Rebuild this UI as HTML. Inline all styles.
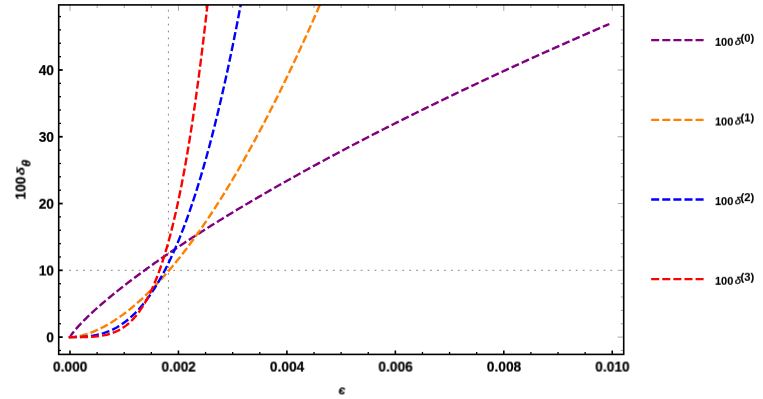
<!DOCTYPE html><html><head><meta charset="utf-8"><style>
html,body{margin:0;padding:0;background:#fff}body{width:763px;height:399px;position:relative;overflow:hidden;font-family:"Liberation Sans",sans-serif;font-weight:bold;color:#000}
.t{position:absolute;left:0;top:0;white-space:nowrap;line-height:1;will-change:transform;transform-origin:0 0;-webkit-text-stroke:0.17px #000}
.xt{font-size:13.8px;width:60px;text-align:center}
.yt{font-size:13.8px;width:40px;text-align:right}
.lg{font-size:11px;-webkit-text-stroke:0.1px #000}
.lg i{display:inline-block;font-weight:normal;font-style:italic;font-size:11.3px;margin-left:1.3px;-webkit-text-stroke:0.3px #000;transform:scaleY(0.87);transform-origin:50% 45%}
.lg sup{font-size:11.2px;position:relative;top:-3.7px;vertical-align:baseline;margin-left:-0.5px}
</style></head><body>
<svg width="763" height="399" viewBox="0 0 763 399" style="position:absolute;left:0;top:0">
<rect width="100%" height="100%" fill="#fff"/>
<defs><clipPath id="c"><rect x="58.70" y="4.90" width="565.00" height="349.50"/></clipPath></defs>
<g stroke="#858585" stroke-width="1" fill="none">
<path d="M69.20 270.30 H612.80" stroke-dasharray="1.8 5.14" stroke-dashoffset="0"/>
<path d="M168.40 337.30 V6.00" stroke-dasharray="1.8 5.13"/>
</g>
<g clip-path="url(#c)" fill="none" stroke-width="2.4" stroke-linecap="square" stroke-dasharray="5.65 5.45">
<path d="M70.00 337.10 L71.35 334.86 L72.69 333.02 L74.04 331.31 L75.38 329.69 L76.73 328.13 L78.07 326.63 L79.42 325.16 L80.76 323.73 L82.11 322.33 L83.45 320.96 L84.80 319.61 L86.15 318.28 L87.49 316.97 L88.84 315.68 L90.18 314.40 L91.53 313.14 L92.87 311.90 L94.22 310.67 L95.56 309.45 L96.91 308.24 L98.25 307.04 L99.60 305.86 L100.95 304.69 L102.29 303.52 L103.64 302.36 L104.98 301.22 L106.33 300.08 L107.67 298.95 L109.02 297.83 L110.36 296.71 L111.71 295.61 L113.05 294.51 L114.40 293.42 L115.75 292.33 L117.09 291.25 L118.44 290.18 L119.78 289.11 L121.13 288.05 L122.47 286.99 L123.82 285.94 L125.16 284.90 L126.51 283.86 L127.85 282.82 L129.20 281.79 L130.55 280.77 L131.89 279.75 L133.24 278.74 L134.58 277.73 L135.93 276.72 L137.27 275.72 L138.62 274.72 L139.96 273.73 L141.31 272.74 L142.65 271.76 L144.00 270.77 L145.35 269.80 L146.69 268.82 L148.04 267.86 L149.38 266.89 L150.73 265.93 L152.07 264.97 L153.42 264.01 L154.76 263.06 L156.11 262.11 L157.45 261.17 L158.80 260.23 L160.15 259.29 L161.49 258.35 L162.84 257.42 L164.18 256.49 L165.53 255.56 L166.87 254.64 L168.22 253.72 L169.56 252.80 L170.91 251.89 L172.25 250.98 L173.60 250.07 L174.95 249.16 L176.29 248.26 L177.64 247.36 L178.98 246.46 L180.33 245.56 L181.67 244.67 L183.02 243.78 L184.36 242.89 L185.71 242.00 L187.05 241.12 L188.40 240.24 L189.75 239.36 L191.09 238.48 L192.44 237.61 L193.78 236.74 L195.13 235.87 L196.47 235.00 L197.82 234.13 L199.16 233.27 L200.51 232.41 L201.85 231.55 L203.20 230.69 L204.55 229.84 L205.89 228.99 L207.24 228.14 L208.58 227.29 L209.93 226.44 L211.27 225.60 L212.62 224.75 L213.96 223.91 L215.31 223.07 L216.65 222.24 L218.00 221.40 L219.35 220.57 L220.69 219.74 L222.04 218.91 L223.38 218.08 L224.73 217.25 L226.07 216.43 L227.42 215.61 L228.76 214.79 L230.11 213.97 L231.45 213.15 L232.80 212.33 L234.15 211.52 L235.49 210.71 L236.84 209.90 L238.18 209.09 L239.53 208.28 L240.87 207.48 L242.22 206.67 L243.56 205.87 L244.91 205.07 L246.25 204.27 L247.60 203.47 L248.95 202.67 L250.29 201.88 L251.64 201.09 L252.98 200.29 L254.33 199.50 L255.67 198.71 L257.02 197.93 L258.36 197.14 L259.71 196.36 L261.06 195.57 L262.40 194.79 L263.75 194.01 L265.09 193.23 L266.44 192.46 L267.78 191.68 L269.13 190.90 L270.47 190.13 L271.82 189.36 L273.16 188.59 L274.51 187.82 L275.86 187.05 L277.20 186.28 L278.55 185.52 L279.89 184.75 L281.24 183.99 L282.58 183.23 L283.93 182.47 L285.27 181.71 L286.62 180.95 L287.96 180.20 L289.31 179.44 L290.66 178.69 L292.00 177.93 L293.35 177.18 L294.69 176.43 L296.04 175.68 L297.38 174.93 L298.73 174.19 L300.07 173.44 L301.42 172.70 L302.76 171.95 L304.11 171.21 L305.46 170.47 L306.80 169.73 L308.15 168.99 L309.49 168.25 L310.84 167.52 L312.18 166.78 L313.53 166.05 L314.87 165.31 L316.22 164.58 L317.56 163.85 L318.91 163.12 L320.26 162.39 L321.60 161.66 L322.95 160.94 L324.29 160.21 L325.64 159.48 L326.98 158.76 L328.33 158.04 L329.67 157.32 L331.02 156.60 L332.36 155.88 L333.71 155.16 L335.06 154.44 L336.40 153.72 L337.75 153.01 L339.09 152.29 L340.44 151.58 L341.78 150.87 L343.13 150.15 L344.47 149.44 L345.82 148.73 L347.16 148.02 L348.51 147.32 L349.86 146.61 L351.20 145.90 L352.55 145.20 L353.89 144.49 L355.24 143.79 L356.58 143.09 L357.93 142.39 L359.27 141.69 L360.62 140.99 L361.96 140.29 L363.31 139.59 L364.66 138.90 L366.00 138.20 L367.35 137.50 L368.69 136.81 L370.04 136.12 L371.38 135.42 L372.73 134.73 L374.07 134.04 L375.42 133.35 L376.76 132.66 L378.11 131.98 L379.46 131.29 L380.80 130.60 L382.15 129.92 L383.49 129.23 L384.84 128.55 L386.18 127.86 L387.53 127.18 L388.87 126.50 L390.22 125.82 L391.56 125.14 L392.91 124.46 L394.26 123.78 L395.60 123.11 L396.95 122.43 L398.29 121.76 L399.64 121.08 L400.98 120.41 L402.33 119.73 L403.67 119.06 L405.02 118.39 L406.36 117.72 L407.71 117.05 L409.06 116.38 L410.40 115.71 L411.75 115.04 L413.09 114.37 L414.44 113.71 L415.78 113.04 L417.13 112.38 L418.47 111.71 L419.82 111.05 L421.16 110.39 L422.51 109.73 L423.86 109.07 L425.20 108.41 L426.55 107.75 L427.89 107.09 L429.24 106.43 L430.58 105.77 L431.93 105.11 L433.27 104.46 L434.62 103.80 L435.96 103.15 L437.31 102.50 L438.66 101.84 L440.00 101.19 L441.35 100.54 L442.69 99.89 L444.04 99.24 L445.38 98.59 L446.73 97.94 L448.07 97.29 L449.42 96.64 L450.76 96.00 L452.11 95.35 L453.46 94.70 L454.80 94.06 L456.15 93.42 L457.49 92.77 L458.84 92.13 L460.18 91.49 L461.53 90.85 L462.87 90.20 L464.22 89.56 L465.56 88.92 L466.91 88.29 L468.26 87.65 L469.60 87.01 L470.95 86.37 L472.29 85.74 L473.64 85.10 L474.98 84.47 L476.33 83.83 L477.67 83.20 L479.02 82.57 L480.36 81.93 L481.71 81.30 L483.06 80.67 L484.40 80.04 L485.75 79.41 L487.09 78.78 L488.44 78.15 L489.78 77.52 L491.13 76.90 L492.47 76.27 L493.82 75.64 L495.16 75.02 L496.51 74.39 L497.86 73.77 L499.20 73.14 L500.55 72.52 L501.89 71.90 L503.24 71.28 L504.58 70.66 L505.93 70.04 L507.27 69.41 L508.62 68.80 L509.96 68.18 L511.31 67.56 L512.66 66.94 L514.00 66.32 L515.35 65.71 L516.69 65.09 L518.04 64.47 L519.38 63.86 L520.73 63.24 L522.07 62.63 L523.42 62.02 L524.76 61.41 L526.11 60.79 L527.46 60.18 L528.80 59.57 L530.15 58.96 L531.49 58.35 L532.84 57.74 L534.18 57.13 L535.53 56.52 L536.87 55.92 L538.22 55.31 L539.56 54.70 L540.91 54.10 L542.26 53.49 L543.60 52.89 L544.95 52.28 L546.29 51.68 L547.64 51.07 L548.98 50.47 L550.33 49.87 L551.67 49.27 L553.02 48.67 L554.36 48.07 L555.71 47.47 L557.06 46.87 L558.40 46.27 L559.75 45.67 L561.09 45.07 L562.44 44.47 L563.78 43.88 L565.13 43.28 L566.47 42.68 L567.82 42.09 L569.16 41.49 L570.51 40.90 L571.86 40.30 L573.20 39.71 L574.55 39.12 L575.89 38.53 L577.24 37.93 L578.58 37.34 L579.93 36.75 L581.27 36.16 L582.62 35.57 L583.96 34.98 L585.31 34.39 L586.66 33.80 L588.00 33.22 L589.35 32.63 L590.69 32.04 L592.04 31.46 L593.38 30.87 L594.73 30.28 L596.07 29.70 L597.42 29.12 L598.76 28.53 L600.11 27.95 L601.46 27.36 L602.80 26.78 L604.15 26.20 L605.49 25.62 L606.84 25.04 L608.18 24.46" stroke="#800080"/>
<path d="M70.00 337.10 L71.35 337.06 L72.69 336.97 L74.04 336.84 L75.39 336.67 L76.74 336.47 L78.08 336.24 L79.43 335.97 L80.78 335.68 L82.13 335.36 L83.47 335.01 L84.82 334.63 L86.17 334.23 L87.52 333.80 L88.86 333.34 L90.21 332.87 L91.56 332.37 L92.91 331.84 L94.25 331.29 L95.60 330.72 L96.95 330.13 L98.30 329.51 L99.64 328.87 L100.99 328.21 L102.34 327.53 L103.69 326.83 L105.03 326.11 L106.38 325.36 L107.73 324.60 L109.08 323.81 L110.42 323.01 L111.77 322.18 L113.12 321.34 L114.47 320.48 L115.81 319.59 L117.16 318.69 L118.51 317.77 L119.86 316.82 L121.20 315.86 L122.55 314.89 L123.90 313.89 L125.25 312.87 L126.59 311.84 L127.94 310.79 L129.29 309.71 L130.64 308.63 L131.98 307.52 L133.33 306.39 L134.68 305.25 L136.03 304.09 L137.37 302.91 L138.72 301.72 L140.07 300.51 L141.42 299.28 L142.76 298.03 L144.11 296.77 L145.46 295.49 L146.81 294.19 L148.15 292.87 L149.50 291.54 L150.85 290.19 L152.20 288.83 L153.54 287.45 L154.89 286.05 L156.24 284.64 L157.59 283.21 L158.93 281.76 L160.28 280.30 L161.63 278.82 L162.98 277.32 L164.32 275.81 L165.67 274.28 L167.02 272.74 L168.37 271.18 L169.71 269.61 L171.06 268.02 L172.41 266.41 L173.76 264.79 L175.10 263.15 L176.45 261.50 L177.80 259.83 L179.15 258.15 L180.49 256.45 L181.84 254.74 L183.19 253.01 L184.54 251.26 L185.88 249.50 L187.23 247.73 L188.58 245.94 L189.93 244.13 L191.27 242.31 L192.62 240.48 L193.97 238.63 L195.32 236.76 L196.66 234.89 L198.01 232.99 L199.36 231.08 L200.71 229.16 L202.05 227.22 L203.40 225.27 L204.75 223.30 L206.10 221.32 L207.44 219.32 L208.79 217.31 L210.14 215.29 L211.49 213.25 L212.83 211.20 L214.18 209.13 L215.53 207.05 L216.88 204.95 L218.22 202.84 L219.57 200.71 L220.92 198.58 L222.27 196.42 L223.61 194.26 L224.96 192.07 L226.31 189.88 L227.66 187.67 L229.00 185.45 L230.35 183.21 L231.70 180.96 L233.05 178.70 L234.39 176.42 L235.74 174.13 L237.09 171.82 L238.44 169.50 L239.78 167.17 L241.13 164.82 L242.48 162.46 L243.83 160.09 L245.17 157.70 L246.52 155.30 L247.87 152.88 L249.22 150.45 L250.56 148.01 L251.91 145.56 L253.26 143.09 L254.61 140.61 L255.95 138.11 L257.30 135.60 L258.65 133.08 L260.00 130.55 L261.34 128.00 L262.69 125.44 L264.04 122.86 L265.39 120.28 L266.73 117.67 L268.08 115.06 L269.43 112.43 L270.78 109.79 L272.12 107.14 L273.47 104.47 L274.82 101.79 L276.17 99.10 L277.51 96.40 L278.86 93.68 L280.21 90.95 L281.56 88.20 L282.90 85.45 L284.25 82.68 L285.60 79.89 L286.95 77.10 L288.29 74.29 L289.64 71.47 L290.99 68.63 L292.34 65.79 L293.68 62.93 L295.03 60.06 L296.38 57.17 L297.73 54.27 L299.07 51.37 L300.42 48.44 L301.77 45.51 L303.12 42.56 L304.46 39.60 L305.81 36.63 L307.16 33.64 L308.51 30.64 L309.85 27.63 L311.20 24.61 L312.55 21.58 L313.90 18.53 L315.24 15.47 L316.59 12.40 L317.94 9.31 L319.29 6.21 L320.63 3.11 L321.98 -0.02 L323.33 -3.15 L324.68 -6.30 L326.02 -9.45 L327.37 -12.63 L328.72 -15.81 L330.07 -19.00 L331.41 -22.21 L332.76 -25.43 L334.11 -28.66 L335.46 -31.91 L336.80 -35.16 L338.15 -38.43 L339.50 -41.71 L340.85 -45.00 L342.19 -48.31 L343.54 -51.62 L344.89 -54.95 L346.24 -58.29 L347.58 -61.64 L348.93 -65.01 L350.28 -68.38 L351.63 -71.77 L352.97 -75.17 L354.32 -78.59 L355.67 -82.01 L357.02 -85.45 L358.36 -88.89 L359.71 -92.35 L361.06 -95.82 L362.41 -99.31 L363.75 -102.80 L365.10 -106.31 L366.45 -109.83 L367.80 -113.36 L369.14 -116.90 L370.49 -120.46 L371.84 -124.02 L373.19 -127.60 L374.53 -131.19 L375.88 -134.79 L377.23 -138.40 L378.58 -142.03 L379.92 -145.66 L381.27 -149.31 L382.62 -152.97 L383.97 -156.64 L385.31 -160.32 L386.66 -164.01 L388.01 -167.72 L389.36 -171.44 L390.70 -175.17 L392.05 -178.91 L393.40 -182.66 L394.75 -186.42 L396.09 -190.20 L397.44 -193.98 L398.79 -197.78 L400.14 -201.59 L401.48 -205.41 L402.83 -209.24 L404.18 -213.08 L405.53 -216.94 L406.87 -220.81 L408.22 -224.68 L409.57 -228.57 L410.92 -232.47 L412.26 -236.38 L413.61 -240.31 L414.96 -244.24 L416.31 -248.19 L417.65 -252.14 L419.00 -256.11 L420.35 -260.09 L421.70 -264.08 L423.04 -268.08 L424.39 -272.10 L425.74 -276.12 L427.09 -280.16 L428.43 -284.20 L429.78 -288.26 L431.13 -292.33 L432.48 -296.41 L433.82 -300.50 L435.17 -304.61 L436.52 -308.72 L437.87 -312.85 L439.21 -316.98 L440.56 -321.13 L441.91 -325.29 L443.26 -329.46 L444.60 -333.64 L445.95 -337.83 L447.30 -342.03 L448.65 -346.24 L449.99 -350.47 L451.34 -354.71 L452.69 -358.95 L454.04 -363.21 L455.38 -367.48 L456.73 -371.76 L458.08 -376.05 L459.42 -380.35 L460.77 -384.66 L462.12 -388.99 L463.47 -393.32 L464.81 -397.67 L466.16 -402.02 L467.51 -406.39 L468.86 -410.77 L470.20 -415.16 L471.55 -419.56 L472.90 -423.97 L474.25 -428.39 L475.59 -432.82 L476.94 -437.27 L478.29 -441.72 L479.64 -446.19 L480.98 -450.66 L482.33 -455.15 L483.68 -459.65 L485.03 -464.15 L486.37 -468.67 L487.72 -473.20 L489.07 -477.74 L490.42 -482.29 L491.76 -486.86 L493.11 -491.43 L494.46 -496.01 L495.81 -500.61 L497.15 -505.21 L498.50 -509.83 L499.85 -514.45 L501.20 -519.09 L502.54 -523.74 L503.89 -528.39 L505.24 -533.06 L506.59 -537.74 L507.93 -542.43 L509.28 -547.13 L510.63 -551.85 L511.98 -556.57 L513.32 -561.30 L514.67 -566.04 L516.02 -570.80 L517.37 -575.56 L518.71 -580.33 L520.06 -585.12 L521.41 -589.92 L522.76 -594.72 L524.10 -599.54 L525.45 -604.37 L526.80 -609.20 L528.15 -614.05 L529.49 -618.91 L530.84 -623.78 L532.19 -628.66 L533.54 -633.55 L534.88 -638.45 L536.23 -643.36 L537.58 -648.29 L538.93 -653.22 L540.27 -658.16 L541.62 -663.11 L542.97 -668.08 L544.32 -673.05 L545.66 -678.03 L547.01 -683.03 L548.36 -688.03 L549.71 -693.05 L551.05 -698.08 L552.40 -703.11 L553.75 -708.16 L555.10 -713.21 L556.44 -718.28 L557.79 -723.36 L559.14 -728.45 L560.49 -733.54 L561.83 -738.65 L563.18 -743.77 L564.53 -748.90 L565.88 -754.04 L567.22 -759.19 L568.57 -764.35 L569.92 -769.52 L571.27 -774.70 L572.61 -779.89 L573.96 -785.09 L575.31 -790.30 L576.66 -795.52 L578.00 -800.75 L579.35 -806.00 L580.70 -811.25 L582.05 -816.51 L583.39 -821.78 L584.74 -827.06 L586.09 -832.36 L587.44 -837.66 L588.78 -842.97 L590.13 -848.30 L591.48 -853.63 L592.83 -858.97 L594.17 -864.33 L595.52 -869.69 L596.87 -875.06 L598.22 -880.45 L599.56 -885.84 L600.91 -891.25 L602.26 -896.66 L603.61 -902.08 L604.95 -907.52 L606.30 -912.96 L607.65 -918.42 L609.00 -923.88" stroke="#ff8000"/>
<path d="M70.00 337.10 L71.35 337.10 L72.69 337.10 L74.04 337.09 L75.39 337.07 L76.74 337.05 L78.08 337.02 L79.43 336.98 L80.78 336.92 L82.13 336.86 L83.47 336.78 L84.82 336.68 L86.17 336.57 L87.52 336.44 L88.86 336.29 L90.21 336.12 L91.56 335.93 L92.91 335.72 L94.25 335.49 L95.60 335.23 L96.95 334.95 L98.30 334.64 L99.64 334.31 L100.99 333.95 L102.34 333.56 L103.69 333.14 L105.03 332.69 L106.38 332.22 L107.73 331.71 L109.08 331.17 L110.42 330.59 L111.77 329.98 L113.12 329.34 L114.47 328.65 L115.81 327.94 L117.16 327.18 L118.51 326.39 L119.86 325.56 L121.20 324.69 L122.55 323.77 L123.90 322.82 L125.25 321.83 L126.59 320.79 L127.94 319.70 L129.29 318.58 L130.64 317.41 L131.98 316.19 L133.33 314.92 L134.68 313.61 L136.03 312.25 L137.37 310.84 L138.72 309.38 L140.07 307.87 L141.42 306.31 L142.76 304.70 L144.11 303.04 L145.46 301.32 L146.81 299.55 L148.15 297.72 L149.50 295.84 L150.85 293.91 L152.20 291.91 L153.54 289.86 L154.89 287.75 L156.24 285.58 L157.59 283.36 L158.93 281.07 L160.28 278.72 L161.63 276.31 L162.98 273.84 L164.32 271.31 L165.67 268.71 L167.02 266.05 L168.37 263.32 L169.71 260.53 L171.06 257.67 L172.41 254.74 L173.76 251.75 L175.10 248.69 L176.45 245.56 L177.80 242.37 L179.15 239.10 L180.49 235.76 L181.84 232.35 L183.19 228.87 L184.54 225.31 L185.88 221.69 L187.23 217.99 L188.58 214.21 L189.93 210.36 L191.27 206.44 L192.62 202.44 L193.97 198.36 L195.32 194.20 L196.66 189.97 L198.01 185.65 L199.36 181.26 L200.71 176.79 L202.05 172.24 L203.40 167.61 L204.75 162.89 L206.10 158.09 L207.44 153.21 L208.79 148.25 L210.14 143.20 L211.49 138.07 L212.83 132.85 L214.18 127.55 L215.53 122.16 L216.88 116.68 L218.22 111.12 L219.57 105.47 L220.92 99.72 L222.27 93.89 L223.61 87.97 L224.96 81.96 L226.31 75.86 L227.66 69.66 L229.00 63.38 L230.35 57.00 L231.70 50.53 L233.05 43.96 L234.39 37.30 L235.74 30.54 L237.09 23.69 L238.44 16.74 L239.78 9.70 L241.13 2.55 L242.48 -4.69 L243.83 -12.03 L245.17 -19.46 L246.52 -27.00 L247.87 -34.64 L249.22 -42.38 L250.56 -50.22 L251.91 -58.16 L253.26 -66.20 L254.61 -74.35 L255.95 -82.60 L257.30 -90.96 L258.65 -99.42 L260.00 -107.98 L261.34 -116.65 L262.69 -125.43 L264.04 -134.31 L265.39 -143.30 L266.73 -152.40 L268.08 -161.61 L269.43 -170.93 L270.78 -180.35 L272.12 -189.89 L273.47 -199.53 L274.82 -209.29 L276.17 -219.16 L277.51 -229.14 L278.86 -239.24 L280.21 -249.45 L281.56 -259.77 L282.90 -270.20 L284.25 -280.75 L285.60 -291.42 L286.95 -302.20 L288.29 -313.10 L289.64 -324.12 L290.99 -335.25 L292.34 -346.50 L293.68 -357.87 L295.03 -369.36 L296.38 -380.97 L297.73 -392.70 L299.07 -404.55 L300.42 -416.52 L301.77 -428.61 L303.12 -440.82 L304.46 -453.16 L305.81 -465.62 L307.16 -478.21 L308.51 -490.92 L309.85 -503.75 L311.20 -516.71 L312.55 -529.79 L313.90 -543.00 L315.24 -556.34 L316.59 -569.81 L317.94 -583.40 L319.29 -597.12 L320.63 -610.97 L321.98 -624.95 L323.33 -639.06 L324.68 -653.30 L326.02 -667.67 L327.37 -682.18 L328.72 -696.81 L330.07 -711.58 L331.41 -726.48 L332.76 -741.51 L334.11 -756.68 L335.46 -771.98 L336.80 -787.42 L338.15 -802.99 L339.50 -818.70 L340.85 -834.55 L342.19 -850.53 L343.54 -866.65 L344.89 -882.91 L346.24 -899.30 L347.58 -915.84 L348.93 -932.51 L350.28 -949.32 L351.63 -966.28 L352.97 -983.37 L354.32 -1000.61 L355.67 -1017.99 L357.02 -1035.51 L358.36 -1053.18 L359.71 -1070.98 L361.06 -1088.93 L362.41 -1107.03 L363.75 -1125.27 L365.10 -1143.66 L366.45 -1162.19 L367.80 -1180.87 L369.14 -1199.69 L370.49 -1218.66 L371.84 -1237.78 L373.19 -1257.05 L374.53 -1276.47 L375.88 -1296.03 L377.23 -1315.75 L378.58 -1335.62 L379.92 -1355.63 L381.27 -1375.80 L382.62 -1396.12 L383.97 -1416.59 L385.31 -1437.21 L386.66 -1457.99 L388.01 -1478.92 L389.36 -1500.01 L390.70 -1521.25 L392.05 -1542.64 L393.40 -1564.19 L394.75 -1585.89 L396.09 -1607.76 L397.44 -1629.77 L398.79 -1651.95 L400.14 -1674.28 L401.48 -1696.77 L402.83 -1719.42 L404.18 -1742.23 L405.53 -1765.20 L406.87 -1788.33 L408.22 -1811.62 L409.57 -1835.07 L410.92 -1858.69 L412.26 -1882.46 L413.61 -1906.40 L414.96 -1930.50 L416.31 -1954.76 L417.65 -1979.19 L419.00 -2003.78 L420.35 -2028.54 L421.70 -2053.46 L423.04 -2078.55 L424.39 -2103.80 L425.74 -2129.22 L427.09 -2154.81 L428.43 -2180.57 L429.78 -2206.49 L431.13 -2232.58 L432.48 -2258.84 L433.82 -2285.27 L435.17 -2311.87 L436.52 -2338.64 L437.87 -2365.58 L439.21 -2392.70 L440.56 -2419.98 L441.91 -2447.44 L443.26 -2475.07 L444.60 -2502.87 L445.95 -2530.84 L447.30 -2558.99 L448.65 -2587.32 L449.99 -2615.82 L451.34 -2644.49 L452.69 -2673.34 L454.04 -2702.37 L455.38 -2731.57 L456.73 -2760.95 L458.08 -2790.51 L459.42 -2820.25 L460.77 -2850.16 L462.12 -2880.26 L463.47 -2910.53 L464.81 -2940.98 L466.16 -2971.62 L467.51 -3002.43 L468.86 -3033.43 L470.20 -3064.60 L471.55 -3095.96 L472.90 -3127.50 L474.25 -3159.23 L475.59 -3191.14 L476.94 -3223.23 L478.29 -3255.51 L479.64 -3287.97 L480.98 -3320.61 L482.33 -3353.45 L483.68 -3386.47 L485.03 -3419.67 L486.37 -3453.06 L487.72 -3486.64 L489.07 -3520.41 L490.42 -3554.37 L491.76 -3588.51 L493.11 -3622.85 L494.46 -3657.37 L495.81 -3692.08 L497.15 -3726.99 L498.50 -3762.08 L499.85 -3797.37 L501.20 -3832.85 L502.54 -3868.52 L503.89 -3904.38 L505.24 -3940.44 L506.59 -3976.69 L507.93 -4013.14 L509.28 -4049.78 L510.63 -4086.61 L511.98 -4123.64 L513.32 -4160.87 L514.67 -4198.29 L516.02 -4235.91 L517.37 -4273.72 L518.71 -4311.73 L520.06 -4349.95 L521.41 -4388.35 L522.76 -4426.96 L524.10 -4465.77 L525.45 -4504.78 L526.80 -4543.99 L528.15 -4583.39 L529.49 -4623.00 L530.84 -4662.81 L532.19 -4702.83 L533.54 -4743.04 L534.88 -4783.46 L536.23 -4824.08 L537.58 -4864.90 L538.93 -4905.93 L540.27 -4947.17 L541.62 -4988.60 L542.97 -5030.25 L544.32 -5072.10 L545.66 -5114.15 L547.01 -5156.41 L548.36 -5198.88 L549.71 -5241.56 L551.05 -5284.44 L552.40 -5327.54 L553.75 -5370.84 L555.10 -5414.35 L556.44 -5458.07 L557.79 -5502.00 L559.14 -5546.14 L560.49 -5590.49 L561.83 -5635.05 L563.18 -5679.83 L564.53 -5724.81 L565.88 -5770.01 L567.22 -5815.42 L568.57 -5861.05 L569.92 -5906.89 L571.27 -5952.94 L572.61 -5999.21 L573.96 -6045.69 L575.31 -6092.39 L576.66 -6139.31 L578.00 -6186.44 L579.35 -6233.79 L580.70 -6281.35 L582.05 -6329.13 L583.39 -6377.13 L584.74 -6425.35 L586.09 -6473.79 L587.44 -6522.45 L588.78 -6571.33 L590.13 -6620.42 L591.48 -6669.74 L592.83 -6719.28 L594.17 -6769.04 L595.52 -6819.02 L596.87 -6869.22 L598.22 -6919.65 L599.56 -6970.30 L600.91 -7021.17 L602.26 -7072.27 L603.61 -7123.59 L604.95 -7175.14 L606.30 -7226.91 L607.65 -7278.91 L609.00 -7331.13" stroke="#0000ff"/>
<path d="M70.00 337.10 L71.35 337.10 L72.69 337.10 L74.04 337.10 L75.39 337.10 L76.74 337.10 L78.08 337.09 L79.43 337.09 L80.78 337.08 L82.13 337.06 L83.47 337.04 L84.82 337.02 L86.17 336.99 L87.52 336.95 L88.86 336.90 L90.21 336.85 L91.56 336.78 L92.91 336.69 L94.25 336.60 L95.60 336.48 L96.95 336.35 L98.30 336.20 L99.64 336.03 L100.99 335.84 L102.34 335.62 L103.69 335.38 L105.03 335.11 L106.38 334.81 L107.73 334.47 L109.08 334.10 L110.42 333.70 L111.77 333.25 L113.12 332.77 L114.47 332.24 L115.81 331.66 L117.16 331.04 L118.51 330.37 L119.86 329.64 L121.20 328.85 L122.55 328.01 L123.90 327.11 L125.25 326.14 L126.59 325.11 L127.94 324.00 L129.29 322.82 L130.64 321.57 L131.98 320.24 L133.33 318.83 L134.68 317.33 L136.03 315.74 L137.37 314.06 L138.72 312.29 L140.07 310.42 L141.42 308.45 L142.76 306.37 L144.11 304.18 L145.46 301.89 L146.81 299.47 L148.15 296.94 L149.50 294.29 L150.85 291.51 L152.20 288.60 L153.54 285.55 L154.89 282.37 L156.24 279.04 L157.59 275.58 L158.93 271.96 L160.28 268.18 L161.63 264.25 L162.98 260.16 L164.32 255.90 L165.67 251.47 L167.02 246.87 L168.37 242.09 L169.71 237.12 L171.06 231.97 L172.41 226.62 L173.76 221.08 L175.10 215.34 L176.45 209.39 L177.80 203.23 L179.15 196.86 L180.49 190.27 L181.84 183.45 L183.19 176.40 L184.54 169.12 L185.88 161.60 L187.23 153.84 L188.58 145.83 L189.93 137.56 L191.27 129.04 L192.62 120.25 L193.97 111.20 L195.32 101.86 L196.66 92.25 L198.01 82.36 L199.36 72.17 L200.71 61.69 L202.05 50.91 L203.40 39.82 L204.75 28.42 L206.10 16.71 L207.44 4.67 L208.79 -7.70 L210.14 -20.40 L211.49 -33.44 L212.83 -46.83 L214.18 -60.56 L215.53 -74.66 L216.88 -89.11 L218.22 -103.94 L219.57 -119.14 L220.92 -134.72 L222.27 -150.69 L223.61 -167.04 L224.96 -183.80 L226.31 -200.96 L227.66 -218.54 L229.00 -236.53 L230.35 -254.94 L231.70 -273.78 L233.05 -293.06 L234.39 -312.78 L235.74 -332.95 L237.09 -353.58 L238.44 -374.66 L239.78 -396.22 L241.13 -418.24 L242.48 -440.75 L243.83 -463.75 L245.17 -487.24 L246.52 -511.23 L247.87 -535.74 L249.22 -560.75 L250.56 -586.29 L251.91 -612.35 L253.26 -638.95 L254.61 -666.09 L255.95 -693.79 L257.30 -722.03 L258.65 -750.84 L260.00 -780.23 L261.34 -810.18 L262.69 -840.73 L264.04 -871.86 L265.39 -903.60 L266.73 -935.94 L268.08 -968.89 L269.43 -1002.46 L270.78 -1036.67 L272.12 -1071.50 L273.47 -1106.99 L274.82 -1143.12 L276.17 -1179.91 L277.51 -1217.37 L278.86 -1255.49 L280.21 -1294.31 L281.56 -1333.80 L282.90 -1374.00 L284.25 -1414.90 L285.60 -1456.51 L286.95 -1498.84 L288.29 -1541.90 L289.64 -1585.70 L290.99 -1630.24 L292.34 -1675.53 L293.68 -1721.58 L295.03 -1768.39 L296.38 -1815.99 L297.73 -1864.36 L299.07 -1913.53 L300.42 -1963.50 L301.77 -2014.27 L303.12 -2065.87 L304.46 -2118.29 L305.81 -2171.54 L307.16 -2225.63 L308.51 -2280.57 L309.85 -2336.37 L311.20 -2393.04 L312.55 -2450.58 L313.90 -2509.01 L315.24 -2568.33 L316.59 -2628.55 L317.94 -2689.68 L319.29 -2751.73 L320.63 -2814.71 L321.98 -2878.62 L323.33 -2943.48 L324.68 -3009.29 L326.02 -3076.06 L327.37 -3143.81 L328.72 -3212.53 L330.07 -3282.24 L331.41 -3352.96 L332.76 -3424.68 L334.11 -3497.41 L335.46 -3571.17 L336.80 -3645.97 L338.15 -3721.81 L339.50 -3798.70 L340.85 -3876.66 L342.19 -3955.68 L343.54 -4035.79 L344.89 -4116.99 L346.24 -4199.28 L347.58 -4282.69 L348.93 -4367.21 L350.28 -4452.87 L351.63 -4539.66 L352.97 -4627.59 L354.32 -4716.69 L355.67 -4806.95 L357.02 -4898.38 L358.36 -4991.00 L359.71 -5084.82 L361.06 -5179.84 L362.41 -5276.08 L363.75 -5373.54 L365.10 -5472.23 L366.45 -5572.17 L367.80 -5673.36 L369.14 -5775.82 L370.49 -5879.56 L371.84 -5984.57 L373.19 -6090.88 L374.53 -6198.50 L375.88 -6307.43 L377.23 -6417.68 L378.58 -6529.27 L379.92 -6642.21 L381.27 -6756.50 L382.62 -6872.16 L383.97 -6989.19 L385.31 -7107.61 L386.66 -7227.42 L388.01 -7348.64 L389.36 -7471.28 L390.70 -7595.35 L392.05 -7720.86 L393.40 -7847.82 L394.75 -7976.23 L396.09 -8106.12 L397.44 -8237.49 L398.79 -8370.35 L400.14 -8504.71 L401.48 -8640.59 L402.83 -8777.99 L404.18 -8916.92 L405.53 -9057.40 L406.87 -9199.44 L408.22 -9343.04 L409.57 -9488.23 L410.92 -9635.00 L412.26 -9783.37 L413.61 -9933.36 L414.96 -10084.97 L416.31 -10238.21 L417.65 -10393.09 L419.00 -10549.64 L420.35 -10707.85 L421.70 -10867.73 L423.04 -11029.31 L424.39 -11192.59 L425.74 -11357.58 L427.09 -11524.30 L428.43 -11692.75 L429.78 -11862.95 L431.13 -12034.90 L432.48 -12208.63 L433.82 -12384.14 L435.17 -12561.44 L436.52 -12740.54 L437.87 -12921.46 L439.21 -13104.21 L440.56 -13288.79 L441.91 -13475.23 L443.26 -13663.53 L444.60 -13853.71 L445.95 -14045.77 L447.30 -14239.73 L448.65 -14435.60 L449.99 -14633.39 L451.34 -14833.12 L452.69 -15034.79 L454.04 -15238.42 L455.38 -15444.02 L456.73 -15651.60 L458.08 -15861.18 L459.42 -16072.76 L460.77 -16286.36 L462.12 -16501.99 L463.47 -16719.67 L464.81 -16939.40 L466.16 -17161.20 L467.51 -17385.07 L468.86 -17611.04 L470.20 -17839.12 L471.55 -18069.31 L472.90 -18301.63 L474.25 -18536.09 L475.59 -18772.71 L476.94 -19011.49 L478.29 -19252.46 L479.64 -19495.61 L480.98 -19740.97 L482.33 -19988.55 L483.68 -20238.36 L485.03 -20490.41 L486.37 -20744.71 L487.72 -21001.29 L489.07 -21260.14 L490.42 -21521.29 L491.76 -21784.75 L493.11 -22050.52 L494.46 -22318.63 L495.81 -22589.09 L497.15 -22861.90 L498.50 -23137.09 L499.85 -23414.66 L501.20 -23694.62 L502.54 -23977.00 L503.89 -24261.80 L505.24 -24549.05 L506.59 -24838.74 L507.93 -25130.89 L509.28 -25425.52 L510.63 -25722.65 L511.98 -26022.27 L513.32 -26324.42 L514.67 -26629.09 L516.02 -26936.31 L517.37 -27246.08 L518.71 -27558.43 L520.06 -27873.36 L521.41 -28190.89 L522.76 -28511.03 L524.10 -28833.79 L525.45 -29159.20 L526.80 -29487.25 L528.15 -29817.98 L529.49 -30151.38 L530.84 -30487.48 L532.19 -30826.28 L533.54 -31167.81 L534.88 -31512.07 L536.23 -31859.08 L537.58 -32208.85 L538.93 -32561.40 L540.27 -32916.74 L541.62 -33274.88 L542.97 -33635.85 L544.32 -33999.64 L545.66 -34366.29 L547.01 -34735.79 L548.36 -35108.17 L549.71 -35483.44 L551.05 -35861.62 L552.40 -36242.71 L553.75 -36626.73 L555.10 -37013.70 L556.44 -37403.63 L557.79 -37796.54 L559.14 -38192.44 L560.49 -38591.34 L561.83 -38993.26 L563.18 -39398.21 L564.53 -39806.21 L565.88 -40217.27 L567.22 -40631.40 L568.57 -41048.63 L569.92 -41468.97 L571.27 -41892.42 L572.61 -42319.01 L573.96 -42748.75 L575.31 -43181.65 L576.66 -43617.74 L578.00 -44057.02 L579.35 -44499.50 L580.70 -44945.21 L582.05 -45394.16 L583.39 -45846.36 L584.74 -46301.83 L586.09 -46760.59 L587.44 -47222.64 L588.78 -47688.01 L590.13 -48156.70 L591.48 -48628.74 L592.83 -49104.14 L594.17 -49582.91 L595.52 -50065.07 L596.87 -50550.64 L598.22 -51039.63 L599.56 -51532.05 L600.91 -52027.92 L602.26 -52527.25 L603.61 -53030.07 L604.95 -53536.38 L606.30 -54046.21 L607.65 -54559.56 L609.00 -55076.45" stroke="#ff0000"/>
</g>
<g stroke="#000" fill="none">
<path d="M70.00 354.40 V350.50" stroke-width="1.6"/>
<path d="M97.11 354.40 V351.90" stroke-width="1.3"/>
<path d="M124.22 354.40 V351.90" stroke-width="1.3"/>
<path d="M151.34 354.40 V351.90" stroke-width="1.3"/>
<path d="M178.45 354.40 V350.50" stroke-width="1.6"/>
<path d="M205.56 354.40 V351.90" stroke-width="1.3"/>
<path d="M232.68 354.40 V351.90" stroke-width="1.3"/>
<path d="M259.79 354.40 V351.90" stroke-width="1.3"/>
<path d="M286.90 354.40 V350.50" stroke-width="1.6"/>
<path d="M314.01 354.40 V351.90" stroke-width="1.3"/>
<path d="M341.12 354.40 V351.90" stroke-width="1.3"/>
<path d="M368.24 354.40 V351.90" stroke-width="1.3"/>
<path d="M395.35 354.40 V350.50" stroke-width="1.6"/>
<path d="M422.46 354.40 V351.90" stroke-width="1.3"/>
<path d="M449.57 354.40 V351.90" stroke-width="1.3"/>
<path d="M476.69 354.40 V351.90" stroke-width="1.3"/>
<path d="M503.80 354.40 V350.50" stroke-width="1.6"/>
<path d="M530.91 354.40 V351.90" stroke-width="1.3"/>
<path d="M558.03 354.40 V351.90" stroke-width="1.3"/>
<path d="M585.14 354.40 V351.90" stroke-width="1.3"/>
<path d="M612.25 354.40 V350.50" stroke-width="1.6"/>
<path d="M58.70 350.46 H61.00" stroke-width="1.3"/>
<path d="M58.70 337.10 H62.70" stroke-width="1.8"/>
<path d="M58.70 323.74 H61.00" stroke-width="1.3"/>
<path d="M58.70 310.39 H61.00" stroke-width="1.3"/>
<path d="M58.70 297.03 H61.00" stroke-width="1.3"/>
<path d="M58.70 283.68 H61.00" stroke-width="1.3"/>
<path d="M58.70 270.32 H62.70" stroke-width="1.8"/>
<path d="M58.70 256.96 H61.00" stroke-width="1.3"/>
<path d="M58.70 243.61 H61.00" stroke-width="1.3"/>
<path d="M58.70 230.25 H61.00" stroke-width="1.3"/>
<path d="M58.70 216.90 H61.00" stroke-width="1.3"/>
<path d="M58.70 203.54 H62.70" stroke-width="1.8"/>
<path d="M58.70 190.18 H61.00" stroke-width="1.3"/>
<path d="M58.70 176.83 H61.00" stroke-width="1.3"/>
<path d="M58.70 163.47 H61.00" stroke-width="1.3"/>
<path d="M58.70 150.12 H61.00" stroke-width="1.3"/>
<path d="M58.70 136.76 H62.70" stroke-width="1.8"/>
<path d="M58.70 123.40 H61.00" stroke-width="1.3"/>
<path d="M58.70 110.05 H61.00" stroke-width="1.3"/>
<path d="M58.70 96.69 H61.00" stroke-width="1.3"/>
<path d="M58.70 83.34 H61.00" stroke-width="1.3"/>
<path d="M58.70 69.98 H62.70" stroke-width="1.8"/>
<path d="M58.70 56.62 H61.00" stroke-width="1.3"/>
<path d="M58.70 43.27 H61.00" stroke-width="1.3"/>
<path d="M58.70 29.91 H61.00" stroke-width="1.3"/>
<path d="M58.70 16.56 H61.00" stroke-width="1.3"/>
</g>
<g stroke="#6e6e6e" fill="none" stroke-width="0.6">
<path d="M70.00 4.90 V10.90"/>
<path d="M97.11 4.90 V8.00"/>
<path d="M124.22 4.90 V8.00"/>
<path d="M151.34 4.90 V8.00"/>
<path d="M178.45 4.90 V10.90"/>
<path d="M205.56 4.90 V8.00"/>
<path d="M232.68 4.90 V8.00"/>
<path d="M259.79 4.90 V8.00"/>
<path d="M286.90 4.90 V10.90"/>
<path d="M314.01 4.90 V8.00"/>
<path d="M341.12 4.90 V8.00"/>
<path d="M368.24 4.90 V8.00"/>
<path d="M395.35 4.90 V10.90"/>
<path d="M422.46 4.90 V8.00"/>
<path d="M449.57 4.90 V8.00"/>
<path d="M476.69 4.90 V8.00"/>
<path d="M503.80 4.90 V10.90"/>
<path d="M530.91 4.90 V8.00"/>
<path d="M558.03 4.90 V8.00"/>
<path d="M585.14 4.90 V8.00"/>
<path d="M612.25 4.90 V10.90"/>
<path d="M623.70 350.46 H620.60"/>
<path d="M623.70 337.10 H617.70"/>
<path d="M623.70 323.74 H620.60"/>
<path d="M623.70 310.39 H620.60"/>
<path d="M623.70 297.03 H620.60"/>
<path d="M623.70 283.68 H620.60"/>
<path d="M623.70 270.32 H617.70"/>
<path d="M623.70 256.96 H620.60"/>
<path d="M623.70 243.61 H620.60"/>
<path d="M623.70 230.25 H620.60"/>
<path d="M623.70 216.90 H620.60"/>
<path d="M623.70 203.54 H617.70"/>
<path d="M623.70 190.18 H620.60"/>
<path d="M623.70 176.83 H620.60"/>
<path d="M623.70 163.47 H620.60"/>
<path d="M623.70 150.12 H620.60"/>
<path d="M623.70 136.76 H617.70"/>
<path d="M623.70 123.40 H620.60"/>
<path d="M623.70 110.05 H620.60"/>
<path d="M623.70 96.69 H620.60"/>
<path d="M623.70 83.34 H620.60"/>
<path d="M623.70 69.98 H617.70"/>
<path d="M623.70 56.62 H620.60"/>
<path d="M623.70 43.27 H620.60"/>
<path d="M623.70 29.91 H620.60"/>
<path d="M623.70 16.56 H620.60"/>
</g>
<rect x="58.70" y="4.90" width="565.00" height="349.50" fill="none" stroke="#000" stroke-width="1.6"/>
<path d="M652.3 40.20 H702.6" stroke="#800080" stroke-width="2.3" stroke-linecap="square" stroke-dasharray="5.75 5.35" fill="none"/>
<path d="M652.3 119.85 H702.6" stroke="#ff8000" stroke-width="2.3" stroke-linecap="square" stroke-dasharray="5.75 5.35" fill="none"/>
<path d="M652.3 199.50 H702.6" stroke="#0000ff" stroke-width="2.3" stroke-linecap="square" stroke-dasharray="5.75 5.35" fill="none"/>
<path d="M652.3 279.15 H702.6" stroke="#ff0000" stroke-width="2.3" stroke-linecap="square" stroke-dasharray="5.75 5.35" fill="none"/>
</svg>
<div class="t xt" style="transform:translate(40.20px,360.60px) rotate(0.001deg);">0.000</div>
<div class="t xt" style="transform:translate(148.65px,360.60px) rotate(0.001deg);">0.002</div>
<div class="t xt" style="transform:translate(257.10px,360.60px) rotate(0.001deg);">0.004</div>
<div class="t xt" style="transform:translate(365.55px,360.60px) rotate(0.001deg);">0.006</div>
<div class="t xt" style="transform:translate(474.00px,360.60px) rotate(0.001deg);">0.008</div>
<div class="t xt" style="transform:translate(582.45px,360.60px) rotate(0.001deg);">0.010</div>
<div class="t yt" style="transform:translate(14.00px,331.30px) rotate(0.001deg);">0</div>
<div class="t yt" style="transform:translate(14.00px,264.52px) rotate(0.001deg);">10</div>
<div class="t yt" style="transform:translate(14.00px,197.74px) rotate(0.001deg);">20</div>
<div class="t yt" style="transform:translate(14.00px,130.96px) rotate(0.001deg);">30</div>
<div class="t yt" style="transform:translate(14.00px,64.18px) rotate(0.001deg);">40</div>
<div class="t " style="transform:translate(338.60px,384.40px) rotate(0.001deg);font-size:12px;font-style:italic;-webkit-text-stroke:0.1px #000">&#1108;</div>
<div class="t " style="transform:translate(14.50px,199.60px) rotate(-90deg);font-size:13.8px">100<i style="display:inline-block;margin-left:1.1px;transform:scaleY(0.83);transform-origin:50% 50%">&#948;</i><sub style="font-size:12.6px;font-style:italic;position:relative;top:5.2px;vertical-align:baseline;margin-left:0.1px">&#952;</sub></div>
<div class="t lg" style="transform:translate(715.00px,36.85px) rotate(0.001deg);">100<i>&#948;</i><sup>(0)</sup></div>
<div class="t lg" style="transform:translate(715.00px,116.50px) rotate(0.001deg);">100<i>&#948;</i><sup>(1)</sup></div>
<div class="t lg" style="transform:translate(715.00px,196.15px) rotate(0.001deg);">100<i>&#948;</i><sup>(2)</sup></div>
<div class="t lg" style="transform:translate(715.00px,275.80px) rotate(0.001deg);">100<i>&#948;</i><sup>(3)</sup></div>
</body></html>
